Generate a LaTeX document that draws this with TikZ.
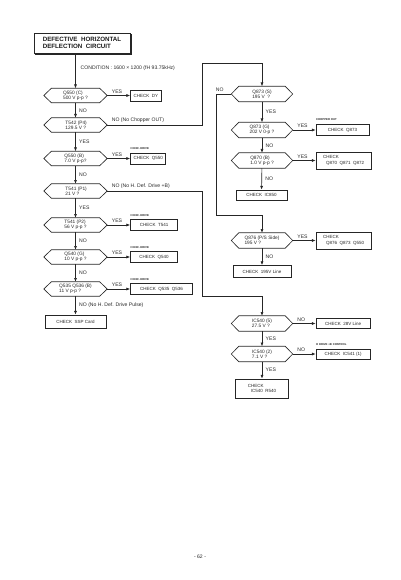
\documentclass[tikz,border=0pt]{standalone}
\usepackage{fontspec}
\setmainfont{Liberation Sans}
\usetikzlibrary{arrows.meta,calc}
\begin{document}
\begin{tikzpicture}[x=1pt,y=-1pt,
  ln/.style={draw=black!85, line width=0.65pt},
  arr/.style={ln, -{Latex[length=3.8pt,width=3pt]}},
  txt/.style={font=\fontsize{4.5}{5.3}\selectfont, text=black!85, inner sep=0pt},
  dec/.style={txt, font=\fontsize{4.8}{5.4}\selectfont, minimum width=63pt, minimum height=14pt, align=left},
  rdec/.style={dec, minimum width=61pt, minimum height=15pt},
  box/.style={txt, ln, minimum height=11pt, align=left, inner xsep=3pt},
  lbl/.style={txt, font=\fontsize{5.1}{6}\selectfont, inner sep=0.5pt},
  tag/.style={font=\bfseries\fontsize{2.8}{3}\selectfont, text=black!85, inner sep=0.3pt},
]
\useasboundingbox (0,0) rectangle (400,580);

% title
\node[ln, line width=0.9pt, font=\bfseries\fontsize{6.2}{7.2}\selectfont, text=black!90,
      align=left, minimum width=96pt, minimum height=20pt] (title) at (82,43)
  {DEFECTIVE\ \ HORIZONTAL\\DEFLECTION\ \ CIRCUIT};
\draw[draw=black!85, line width=1pt] ([xshift=1.2pt,yshift=-1pt]title.south west) -| ([xshift=1.2pt,yshift=-1pt]title.north east);

% left column decisions
\node[dec] (d1) at (75.5,95.5) {Q550 (C)\\500 V p-p ?};
\node[dec] (d2) at (75.5,125) {\ T542 (P4)\\\ 129.5 V ?};
\node[dec] (d3) at (75.5,158.5) {Q550 (B)\\7.0 V p-p?};
\node[dec] (d4) at (75.5,191) {\ T541 (P1)\\\ 21 V ?};
\node[dec] (d5) at (75.5,225) {T541 (P2)\\56 V p-p ?};
\node[dec] (d6) at (75.5,257) {Q540 (G)\\10 V p-p ?};
\node[dec] (d7) at (75.5,289) {Q535 Q536 (B)\\11 V p-p ?};
\node[box, minimum width=61pt, minimum height=13pt] (ssp) at (75.5,321.5) {CHECK\ \ SSP Card};

% left column boxes
\node[box, anchor=west, minimum width=25pt] (bdy) at ([xshift=23pt]d1.east) {CHECK\ \ DY};
\node[box, anchor=west, minimum width=33pt] (bq550) at ([xshift=23pt]d3.east) {CHECK\ \ Q550};
\node[box, anchor=west, minimum width=47pt] (bt541) at ([xshift=23pt]d5.east) {CHECK\ \ T541};
\node[box, anchor=west, minimum width=47pt] (bq540) at ([xshift=23pt]d6.east) {CHECK\ \ Q540};
\node[box, anchor=west, minimum width=62pt] (bq535) at ([xshift=23pt]d7.east) {CHECK\ \ Q535\ \ Q536};

% right column decisions
\node[rdec] (r1) at (262,94) {Q873 (S)\\195 V\ \ ?};
\node[rdec] (r2) at (262,130) {Q873 (G)\\202 V 0-p ?};
\node[rdec] (r3) at (262,160.5) {Q870 (B)\\1.0 V p-p ?};
\node[box, minimum width=51pt, minimum height=10pt] (ic850) at (261.5,195) {CHECK\ \ IC850};
\node[rdec] (r4) at (262,240.5) {Q876 (P/S Side)\\195 V ?};
\node[box, minimum width=58pt, minimum height=12pt] (l195) at (262,271.5) {CHECK\ \ 195V Line};
\node[rdec] (r5) at (262,323.5) {IC540 (5)\\27.5 V ?};
\node[rdec] (r6) at (262,354) {IC540 (2)\\7.1 V ?};
\node[box, minimum width=53pt, minimum height=19pt] (ic540) at (262,388.5) {CHECK\\\hspace*{3pt}IC540\ \ R540};

% right column boxes
\node[box, anchor=west, minimum width=53pt] (bq873) at ([xshift=23pt]r2.east) {CHECK\ \ Q873};
\node[box, anchor=west, minimum width=55pt, minimum height=17pt] (bq870) at ([xshift=23pt]r3.east) {CHECK\\\hspace*{3pt}Q870\ \ Q871\ \ Q872};
\node[box, anchor=west, minimum width=55pt, minimum height=17pt] (bq876) at ([xshift=23pt]r4.east) {CHECK\\\hspace*{3pt}Q876\ \ Q873\ \ Q550};
\node[box, anchor=west, minimum width=54pt, minimum height=10pt] (b28) at ([xshift=23pt]r5.east) {CHECK\ \ 28V Line};
\node[box, anchor=west, minimum width=54pt, minimum height=10pt] (bic541) at ([xshift=23pt]r6.east) {CHECK\ \ IC541 (1)};

% hexagon outlines
\foreach \n in {d1,d2,d3,d4,d5,d6,d7,r1,r2,r3,r4,r5,r6}
  \draw[ln] (\n.west) -- ([xshift=7.5pt]\n.north west) -- ([xshift=-7.5pt]\n.north east)
    -- (\n.east) -- ([xshift=-7.5pt]\n.south east) -- ([xshift=7.5pt]\n.south west) -- cycle;

% corner coordinates
\coordinate (c1) at (202,63);
\coordinate (c2) at (216,215);
\coordinate (c3) at (202,296);

% connectors left
\draw[arr] (title.south -| d1) -- (d1);
\draw[arr] (d1) -- (d2);
\draw[arr] (d2) -- (d3);
\draw[arr] (d3) -- (d4);
\draw[arr] (d4) -- (d5);
\draw[arr] (d5) -- (d6);
\draw[arr] (d6) -- (d7);
\draw[arr] (d7) -- (ssp);
\draw[arr] (d1) -- (bdy);
\draw[arr] (d3) -- (bq550);
\draw[arr] (d5) -- (bt541);
\draw[arr] (d6) -- (bq540);
\draw[arr] (d7) -- (bq535);

% cross connectors
\draw[arr] (d2) -| (c1) -| (r1);
\draw[arr] (r1) -| (c2) -| (r4);
\draw[arr] (d4) -| (c3) -| (r5);

% connectors right
\draw[arr] (r1) -- (r2);
\draw[arr] (r2) -- (r3);
\draw[arr] (r3) -- (ic850);
\draw[arr] (r4) -- (l195);
\draw[arr] (r5) -- (r6);
\draw[arr] (r6) -- (ic540);
\draw[arr] (r2) -- (bq873);
\draw[arr] (r3) -- (bq870);
\draw[arr] (r4) -- (bq876);
\draw[arr] (r5) -- (b28);
\draw[arr] (r6) -- (bic541);

% labels
\node[lbl, anchor=west] (cond) at (80,68) {CONDITION\ :\ 1600 × 1200 (fH 93.75kHz)};
\node[lbl, anchor=west] at ($(d1.south)!.5!(d2.north)+(3,0)$) {NO};
\node[lbl, anchor=west] at ($(d2.south)!.5!(d3.north)+(3,0)$) {YES};
\node[lbl, anchor=west] at ($(d3.south)!.5!(d4.north)+(3,0)$) {NO};
\node[lbl, anchor=west] at ($(d4.south)!.5!(d5.north)+(3,0)$) {YES};
\node[lbl, anchor=west] at ($(d5.south)!.5!(d6.north)+(3,0)$) {NO};
\node[lbl, anchor=west] at ($(d6.south)!.5!(d7.north)+(3,0)$) {NO};
\node[lbl, anchor=west] at ($(d7.south)!.5!(ssp.north)+(3,0)$) {NO (No H. Def. Drive Pulse)};

\node[lbl, anchor=south west] at ([xshift=4pt,yshift=1.5pt]d1.east) {YES};
\node[lbl, anchor=south west] at ([xshift=4pt,yshift=1.5pt]d2.east) {NO (No Chopper OUT)};
\node[lbl, anchor=south west] at ([xshift=4pt,yshift=1.5pt]d3.east) {YES};
\node[lbl, anchor=south west] at ([xshift=4pt,yshift=1.5pt]d4.east) {NO (No H. Def. Drive +B)};
\node[lbl, anchor=south west] at ([xshift=4pt,yshift=1.5pt]d5.east) {YES};
\node[lbl, anchor=south west] at ([xshift=4pt,yshift=1.5pt]d6.east) {YES};
\node[lbl, anchor=south west] at ([xshift=4pt,yshift=1.5pt]d7.east) {YES};

\node[lbl, anchor=south east] at ([xshift=-7pt,yshift=1.5pt]r1.west) {NO};
\node[lbl, anchor=west] at ($(r1.south)!.5!(r2.north)+(3,0)$) {YES};
\node[lbl, anchor=west] at ($(r2.south)!.5!(r3.north)+(3,0)$) {NO};
\node[lbl, anchor=west] at ($(r3.south)!.5!(ic850.north)+(3,0)$) {NO};
\node[lbl, anchor=west] at ($(r4.south)!.5!(l195.north)+(3,0)$) {NO};
\node[lbl, anchor=west] at ($(r5.south)!.5!(r6.north)+(3,0)$) {YES};
\node[lbl, anchor=west] at ($(r6.south)!.5!(ic540.north)+(3,0)$) {YES};

\node[lbl, anchor=south west] at ([xshift=4pt,yshift=1.5pt]r2.east) {YES};
\node[lbl, anchor=south west] at ([xshift=4pt,yshift=1.5pt]r3.east) {YES};
\node[lbl, anchor=south west] at ([xshift=4pt,yshift=1.5pt]r4.east) {YES};
\node[lbl, anchor=south west] at ([xshift=4pt,yshift=1.5pt]r5.east) {NO};
\node[lbl, anchor=south west] at ([xshift=4pt,yshift=1.5pt]r6.east) {NO};

% small tags
\node[tag, anchor=south west] at ([yshift=2.5pt]bq550.north west) {H DEF. DRIVE};
\node[tag, anchor=south west] at ([yshift=2.5pt]bt541.north west) {H DEF. DRIVE};
\node[tag, anchor=south west] at ([yshift=2.5pt]bq540.north west) {H DEF. DRIVE};
\node[tag, anchor=south west] at ([yshift=2.5pt]bq535.north west) {H DEF. DRIVE};
\node[tag, anchor=south west] at ([yshift=3.5pt]bq873.north west) {CHOPPER OUT};
\node[tag, anchor=south west] at ([yshift=2.5pt]bic541.north west) {H DRIVE +B CONTROL};

% page number
\node[lbl] (pg) at (200,557) {- 62 -};
\end{tikzpicture}
\end{document}
